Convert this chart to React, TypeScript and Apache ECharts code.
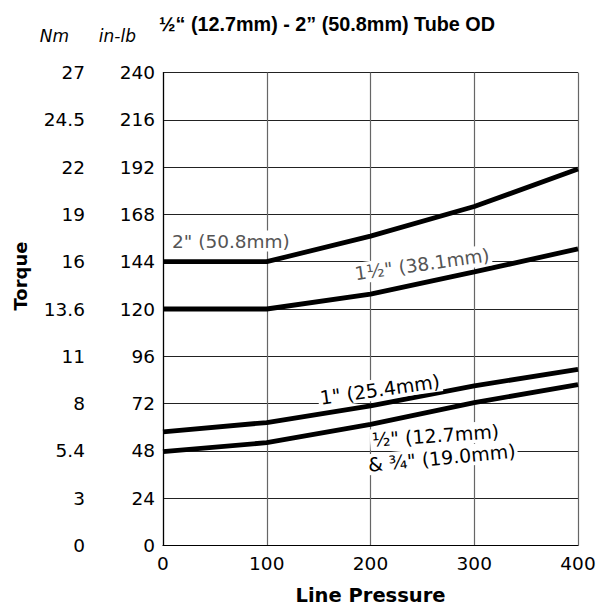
import React, { useEffect, useRef } from "react";
import * as echarts from "echarts";

const pressure = [0, 100, 200, 300, 400];
const tube2in = [144, 144, 157, 172, 191];
const tube1_5in = [120, 120, 127.5, 138.8, 150.5];
const tube1in = [57.7, 62.4, 70.8, 81, 89.4];
const tubeHalfIn = [47.6, 52.2, 61.5, 72.5, 81.6];
const inLbTicks = [0, 24, 48, 72, 96, 120, 144, 168, 192, 216, 240];
const nmTicks = ["0", "3", "5.4", "8", "11", "13.6", "16", "19", "22", "24.5", "27"];

const FONT = "DejaVu Sans";
const HFONT = "Liberation Sans";

export default function App() {
  const ref = useRef<HTMLDivElement>(null);
  useEffect(() => {
    if (!ref.current) return;
    const chart = echarts.init(ref.current, null, { renderer: "svg" });
    const mk = (name: string, data: number[]) => ({
      name,
      type: "line",
      data: pressure.map((p, i) => [p, data[i]]),
      showSymbol: false,
      symbol: "none",
      lineStyle: { color: "#000", width: 4.8 },
      z: 3,
    });
    const deg = Math.PI / 180;
    const label = (text: string, x: number, y: number, rot: number, fill: string, size: number) => ({
      type: "text",
      x,
      y,
      rotation: rot * deg,
      z: 10,
      style: {
        text,
        font: `${size}px "${FONT}"`,
        fill,
        align: "left",
        verticalAlign: "middle",
        backgroundColor: "#fff",
        padding: [1, 2],
      },
    });
    chart.setOption({
      animation: false,
      backgroundColor: "#fff",
      title: {
        text: "½“ (12.7mm) - 2” (50.8mm) Tube OD",
        left: 154,
        top: 9,
        textStyle: { fontFamily: HFONT, fontSize: 19.8, fontWeight: "bold", color: "#000" },
      },
      grid: { left: 163, right: 25, top: 72.5, bottom: 67.5 },
      xAxis: {
        type: "value",
        min: 0,
        max: 400,
        interval: 100,
        name: "Line Pressure",
        nameLocation: "middle",
        nameGap: 40,
        nameTextStyle: { fontFamily: FONT, fontSize: 19.5, fontWeight: "bold", color: "#000" },
        axisLine: { lineStyle: { color: "#000", width: 1.2 } },
        axisTick: { show: false },
        axisLabel: { fontFamily: FONT, fontSize: 18.5, color: "#000", margin: 8 },
        splitLine: { show: true, lineStyle: { color: "#666", width: 1.2 } },
      },
      yAxis: [
        {
          type: "value",
          min: 0,
          max: 240,
          interval: 24,
          position: "left",
          axisLine: { show: true, lineStyle: { color: "#000", width: 1.2 } },
          axisTick: { show: false },
          axisLabel: {
            fontFamily: FONT,
            fontSize: 18.5,
            color: "#000",
            margin: 8,
            formatter: (v: number) => (inLbTicks.includes(v) ? String(v) : ""),
          },
          splitLine: { show: true, lineStyle: { color: "#222", width: 1 } },
        },
        {
          type: "value",
          min: 0,
          max: 240,
          interval: 24,
          position: "left",
          offset: 70,
          axisLine: { show: false },
          axisTick: { show: false },
          splitLine: { show: false },
          axisLabel: {
            fontFamily: FONT,
            fontSize: 18.5,
            color: "#000",
            margin: 8,
            formatter: (v: number) => {
              const i = inLbTicks.indexOf(v);
              return i >= 0 ? nmTicks[i] : "";
            },
          },
        },
      ],
      series: [
        mk('2" (50.8mm)', tube2in),
        mk('1½" (38.1mm)', tube1_5in),
        mk('1" (25.4mm)', tube1in),
        mk('½" (12.7mm) & ¾" (19.0mm)', tubeHalfIn),
      ],
      graphic: [
        {
          type: "text",
          x: 69,
          y: 36,
          style: { text: "Nm", font: `italic 17px "${FONT}"`, fill: "#000", align: "right", verticalAlign: "middle" },
        },
        {
          type: "text",
          x: 136,
          y: 36,
          style: { text: "in-lb", font: `italic 17px "${FONT}"`, fill: "#000", align: "right", verticalAlign: "middle" },
        },
        {
          type: "text",
          x: 20,
          y: 276,
          rotation: Math.PI / 2,
          style: { text: "Torque", font: `bold 18px "${FONT}"`, fill: "#000", align: "center", verticalAlign: "middle" },
        },
        label('2" (50.8mm)', 170, 241, 0, "#555", 18.5),
        label('1½" (38.1mm)', 353, 274, 8, "#555", 18.5),
        label('1" (25.4mm)', 318, 398, 8, "#000", 19),
        label('½" (12.7mm)', 370, 440, 4, "#000", 19),
        label('& ¾" (19.0mm)', 366, 465, 5.5, "#000", 19),
      ],
    });
    return () => chart.dispose();
  }, []);
  return <div ref={ref} style={{ width: 603, height: 613, position: "absolute", left: 0, top: 0 }} />;
}
